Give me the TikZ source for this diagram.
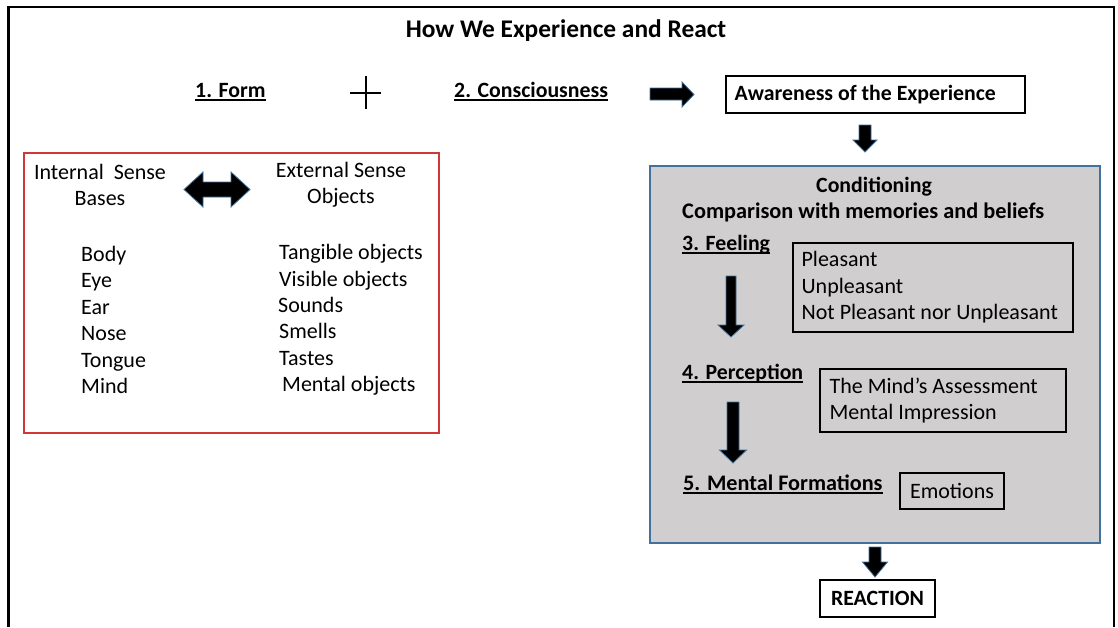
\documentclass[tikz,border=0pt]{standalone}
\usepackage{fontspec}
\setmainfont{Carlito}
\definecolor{arrowblue}{RGB}{65,113,156}
\definecolor{condgrey}{RGB}{208,206,206}
\definecolor{boxred}{RGB}{210,55,55}
\newcommand\ulnode[1]{\draw[ulline] ([yshift=-3pt]#1.base west) -- ([yshift=-3pt]#1.base east);}
% vertical block arrow: cx, ytop, ybot, headstart, half shaft, half head
\newcommand\blockdown[6]{\filldraw[blockarr] (#1-#5,#2) -- (#1+#5,#2) -- (#1+#5,#4) -- (#1+#6,#4) -- (#1,#3) -- (#1-#6,#4) -- (#1-#5,#4) -- cycle;}
\begin{document}
\begin{tikzpicture}[x=1pt,y=-1pt,
  every node/.style={inner sep=0pt, font=\fontsize{22}{26.4}\selectfont},
  bfx/.style={font=\fontsize{21.8}{26.4}\selectfont\bfseries},
  box/.style={draw=black, line width=1.2pt},
  blockarr/.style={fill=black, draw=arrowblue, line width=0.8pt},
  ulline/.style={line width=1.2pt}]
\useasboundingbox (0,0) rectangle (1118,627);
\fill[white] (0,0) rectangle (1118,627);
% outer frame
\draw[line width=2.2pt] (8.5,627) -- (8.5,7) -- (1114,7) -- (1114,627);

% title
\node[font=\fontsize{25.4}{28}\selectfont\bfseries, anchor=base] (title) at (566,37) {How We Experience and React};

% top row
\node[bfx, anchor=base west] (form) at (195,97) {1. Form};
\ulnode{form}
\draw[line width=1.5pt] (350,93) -- (381,93);
\draw[line width=1.5pt] (366,76) -- (366,109);
\node[bfx, anchor=base west] (consc) at (454,97) {2. Consciousness};
\ulnode{consc}
\filldraw[blockarr] (650,88) -- (682,88) -- (682,82) -- (694,94.5) -- (682,107) -- (682,100) -- (650,100) -- cycle;
\node[box, minimum width=299pt, minimum height=37pt] (aware) at (875.5,94.5) {};
\node[bfx, anchor=west] (awaretxt) at ([xshift=9pt]aware.west) {Awareness of the Experience};
\blockdown{865}{125}{152}{140}{6}{12}

% red box
\draw[boxred, line width=1.3pt] (24,153) rectangle (439,433);
\node[align=center] (internal) at (100,185) {Internal\ \ Sense\\Bases};
\node[align=center] (external) at (341,185) {External Sense\\Objects};
\filldraw[blockarr] (184,189.5) -- (203,172) -- (203,182) -- (231,182) -- (231,172) -- (250,189.5) -- (231,207) -- (231,197) -- (203,197) -- (203,207) -- cycle;
\node[anchor=west, align=left] (bases) at (81,320) {Body\\Eye\\Ear\\Nose\\Tongue\\Mind};
\node[anchor=west, align=left] (objects) at (279,320) {Tangible objects\\Visible objects\\\hspace{-1pt}Sounds\\Smells\\Tastes\\\hspace{3pt}Mental objects};

% conditioning box
\draw[fill=condgrey, draw=arrowblue, line width=1.3pt] (650,166) rectangle (1100,543);
\node[bfx] (cond) at (874,187) {Conditioning};
\node[font=\fontsize{22.3}{26.4}\selectfont\bfseries, anchor=west] (comp) at (682,212) {Comparison with memories and beliefs};

\node[bfx, anchor=base west] (feel) at (682,250) {3. Feeling};
\ulnode{feel}
\node[box, minimum width=280pt, minimum height=89pt] (feelbox) at (933,287.5) {};
\node[anchor=west, align=left] (feeltxt) at ([xshift=9pt]feelbox.west) {Pleasant\\Unpleasant\\Not Pleasant nor Unpleasant};
\blockdown{731}{276}{337}{325}{5}{13}

\node[bfx, anchor=base west] (perc) at (682,379) {4. Perception};
\ulnode{perc}
\node[box, minimum width=246pt, minimum height=63pt] (percbox) at (943,400.5) {};
\node[anchor=west, align=left] (perctxt) at ([xshift=10pt]percbox.west) {The Mind’s Assessment\\Mental Impression};
\blockdown{733}{402}{463}{450}{6}{13.5}

\node[font=\fontsize{22.2}{26.4}\selectfont\bfseries, anchor=base west] (mform) at (683,490) {5. Mental Formations};
\ulnode{mform}
\node[box, minimum width=104pt, minimum height=36pt] (emo) at (952,491) {Emotions};

\blockdown{875}{547}{577}{562}{6}{12.5}
\node[box, bfx, minimum width=115pt, minimum height=37pt] (react) at (877.5,598.5) {REACTION};
\end{tikzpicture}
\end{document}
